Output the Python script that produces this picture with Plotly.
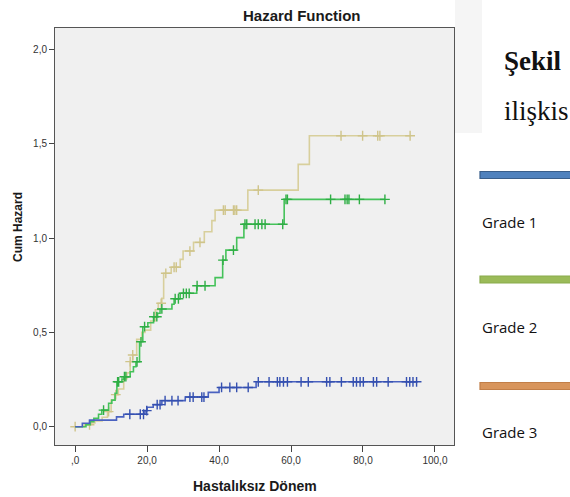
import numpy as np
import plotly.graph_objects as go

# ---- Cumulative hazard step data (event time, cumulative hazard after the step) ----
grade1_time = [0, 2.0, 4.0, 11.5, 13.5, 19.4, 20.0, 21.7, 24.1, 30.6, 37.0, 40.0, 50.3]
grade1_cumhaz = [0, 0.018, 0.035, 0.052, 0.066, 0.085, 0.103, 0.117, 0.138, 0.157,
                 0.182, 0.208, 0.238]
grade1_censored = [15.2, 18.1, 19.0, 19.9, 22.8, 23.6, 25.0, 26.9, 28.6, 31.9, 32.8, 35.2,
                   35.8, 40.7, 43.0, 44.9, 48.1, 50.9, 53.9, 56.2, 56.9, 57.9, 59.0, 62.8,
                   64.8, 69.9, 70.8, 74.0, 77.3, 78.2, 79.2, 80.1, 82.9, 83.8, 87.0, 92.1,
                   93.0, 93.9, 94.9]

grade2_time = [0, 3.0, 4.2, 5.2, 6.5, 7.4, 9.3, 10.2, 11.1, 11.6, 13.0, 13.6, 15.3, 16.2,
               16.9, 17.9, 18.8, 20.2, 21.8, 22.9, 23.6, 26.9, 27.5, 29.2, 33.8, 38.9,
               41.0, 41.9, 44.9, 46.9, 58.1]
grade2_cumhaz = [0, 0.01, 0.027, 0.044, 0.066, 0.088, 0.124, 0.141, 0.177, 0.238, 0.252,
                 0.265, 0.291, 0.318, 0.344, 0.45, 0.53, 0.551, 0.583, 0.601, 0.624, 0.649,
                 0.678, 0.707, 0.747, 0.79, 0.883, 0.936, 1.002, 1.073, 1.205]
grade2_censored = [7.9, 11.8, 12.1, 13.7, 14.1, 17.2, 18.3, 19.3, 21.9, 22.7, 24.1, 27.8,
                   28.7, 30.1, 30.9, 31.7, 33.9, 36.1, 41.1, 44.0, 47.2, 47.7, 50.0, 50.9,
                   51.9, 52.8, 57.7, 58.6, 59.0, 71.0, 75.0, 75.6, 76.1, 79.0, 86.1]

grade3_time = [0, 2.5, 4.5, 5.5, 7.5, 9.0, 10.0, 11.0, 12.0, 13.5, 14.4, 15.3, 16.0, 17.1,
               18.5, 19.4, 21.0, 22.3, 23.1, 24.1, 24.6, 26.7, 29.2, 30.0, 32.9, 35.9,
               38.0, 38.9, 48.0, 62.0, 65.1]
grade3_cumhaz = [0, 0.01, 0.02, 0.03, 0.05, 0.08, 0.141, 0.17, 0.2, 0.255, 0.285, 0.345,
                 0.38, 0.463, 0.5, 0.512, 0.56, 0.62, 0.654, 0.68, 0.813, 0.845, 0.887,
                 0.931, 0.977, 1.033, 1.092, 1.148, 1.254, 1.39, 1.542]
grade3_censored = [0.0, 4.0, 9.3, 11.3, 15.3, 16.0, 23.9, 25.2, 27.5, 28.1, 31.9, 34.7,
                   41.2, 41.7, 44.0, 44.4, 44.9, 50.9, 73.9, 79.9, 84.1, 84.7, 93.1]

x_ticks = [0, 20, 40, 60, 80, 100]
x_tick_labels = [",0", "20,0", "40,0", "60,0", "80,0", "100,0"]
y_ticks = [0, 0.5, 1.0, 1.5, 2.0]
y_tick_labels = ["0,0", "0,5", "1,0", "1,5", "2,0"]

legend_labels = ["Grade 1", "Grade 2", "Grade 3"]

# ---- layout geometry (pixels) ----
W, H = 570, 497
L, R, T, B = 55, 454, 28, 445


def pp(px, py):
    """Figure pixel -> paper coordinates."""
    return (px - L) / (R - L), (B - py) / (B - T)


def text_at(px, py, text, font, xanchor="center", angle=0):
    x, y = pp(px, py)
    return dict(x=x, y=y, xref="paper", yref="paper", text=text, showarrow=False,
                xanchor=xanchor, yanchor="middle", textangle=angle, font=font)


groups = [
    (grade3_time, grade3_cumhaz, grade3_censored, "#d8cf9c", "#cfc48a"),
    (grade2_time, grade2_cumhaz, grade2_censored, "#45c25a", "#2fae45"),
    (grade1_time, grade1_cumhaz, grade1_censored, "#4a62c0", "#3550b0"),
]

fig = go.Figure()
for t, h, cens, lc, mc in groups:
    t = np.asarray(t, float)
    h = np.asarray(h, float)
    cens = np.asarray(cens, float)
    end = max(t.max(), cens.max())
    xs = np.append(t, end)
    ys = np.append(h, h[-1])
    fig.add_trace(go.Scatter(x=xs, y=ys, mode="lines", line=dict(color=lc, width=1.6, shape="hv"),
                             showlegend=False, hoverinfo="skip"))
    idx = np.searchsorted(t, cens, side="right") - 1
    fig.add_trace(go.Scatter(x=cens, y=h[idx], mode="markers",
                             marker=dict(symbol="cross-thin", size=7,
                                         line=dict(color=mc, width=1.4)),
                             showlegend=False, hoverinfo="skip"))

sans = "Liberation Sans, Arial, sans-serif"
tick_font = dict(family=sans, size=10, color="#333333")
fig.update_xaxes(range=[-5.6, 105.3], tickvals=x_ticks, ticktext=x_tick_labels,
                 ticks="outside", ticklen=6, tickcolor="#444444", showgrid=False,
                 zeroline=False, showline=True, linecolor="#555555", linewidth=1,
                 mirror=True, tickfont=tick_font)
fig.update_yaxes(range=[-0.097, 2.113], tickvals=y_ticks, ticktext=y_tick_labels,
                 ticks="outside", ticklen=5, tickcolor="#444444", showgrid=False,
                 zeroline=False, showline=True, linecolor="#555555", linewidth=1,
                 mirror=True, tickfont=tick_font)

annotations = [
    text_at(302, 16, "<b>Hazard Function</b>", dict(family=sans, size=15, color="#1a1a1a")),
    text_at(18, 227, "<b>Cum Hazard</b>", dict(family=sans, size=12, color="#1a1a1a"), angle=-90),
    text_at(255, 486, "<b>Hastalıksız Dönem</b>", dict(family=sans, size=14, color="#1a1a1a")),
]

# document text to the right of the chart
serif = "Liberation Serif, Times New Roman, serif"
annotations.append(text_at(502, 61, "<b>Şekil</b>", dict(family=serif, size=27, color="#111111"),
                           xanchor="left"))
annotations.append(text_at(502, 111, "ilişkis", dict(family=serif, size=27, color="#111111"),
                           xanchor="left"))

shapes = []
# faint background patch beside the chart frame
x0, y0 = pp(455, 0)
x1, y1 = pp(482, 133)
shapes.append(dict(type="rect", xref="paper", yref="paper", x0=x0, y0=y0, x1=x1, y1=y1,
                   fillcolor="#f5f5f5", line=dict(width=0), layer="below"))

bar_styles = [("#4f81bd", "#385d8a", 175), ("#9bbb59", "#8aab4c", 279.5), ("#d8955c", "#c27f48", 386)]
label_y = [221.7, 326.7, 431.7]
for (fill, edge, cy), lab, ly in zip(bar_styles, legend_labels, label_y):
    x0, y0 = pp(480, cy - 3.5)
    x1, y1 = pp(580, cy + 3.5)
    shapes.append(dict(type="rect", xref="paper", yref="paper", x0=x0, y0=y0, x1=x1, y1=y1,
                       fillcolor=fill, line=dict(color=edge, width=1.2)))
    annotations.append(text_at(480, ly, lab, dict(family="Open Sans, sans-serif",
                                                  size=15, color="#111111"), xanchor="left"))

fig.update_layout(width=W, height=H, margin=dict(l=L, r=W - R, t=T, b=H - B),
                  plot_bgcolor="#f0f0f0", paper_bgcolor="white",
                  annotations=annotations, shapes=shapes, showlegend=False)

fig.write_html("out.html")
